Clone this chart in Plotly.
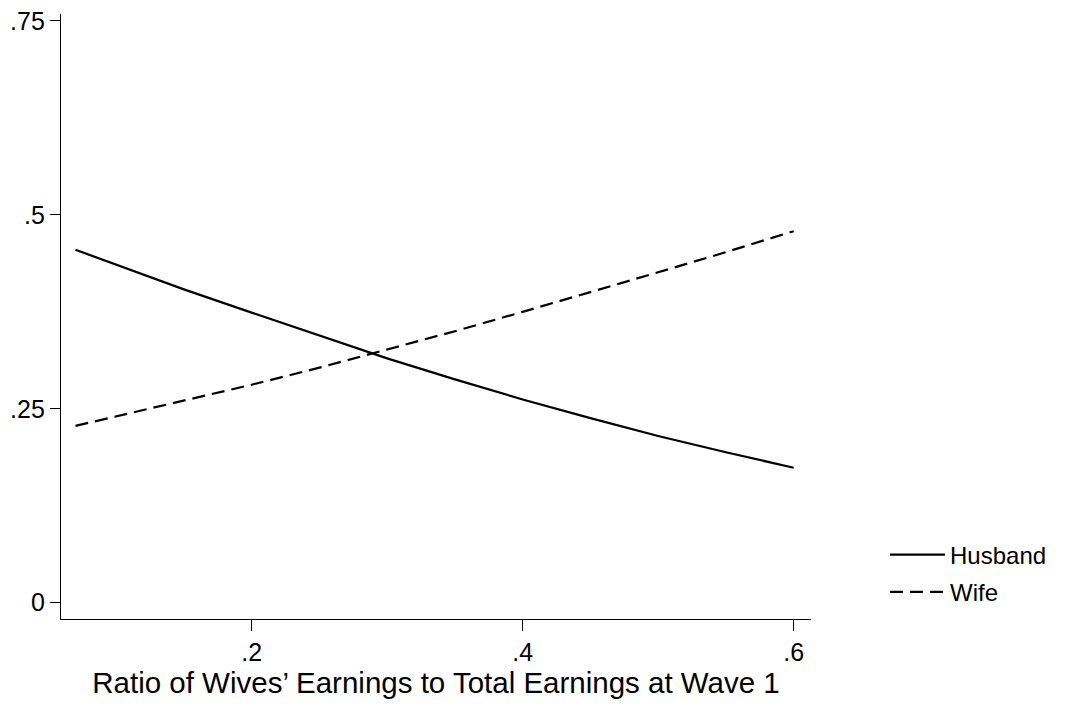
import plotly.graph_objects as go

# Predicted values
ratio = [0.07, 0.10, 0.15, 0.20, 0.25, 0.30, 0.35, 0.40, 0.45, 0.50, 0.55, 0.60]
husband = [0.455, 0.436, 0.404, 0.374, 0.344, 0.315, 0.288, 0.262, 0.238, 0.215, 0.194, 0.174]
wife = [0.228, 0.240, 0.260, 0.281, 0.303, 0.326, 0.350, 0.375, 0.400, 0.426, 0.452, 0.479]

x_ticks = [0.2, 0.4, 0.6]
x_tick_labels = [".2", ".4", ".6"]
y_ticks = [0, 0.25, 0.5, 0.75]
y_tick_labels = ["0", ".25", ".5", ".75"]

FONT = "Liberation Sans, Arial, sans-serif"

fig = go.Figure()
fig.add_trace(go.Scatter(x=ratio, y=husband, mode="lines", name="Husband",
                         legendgroup="h",
                         line=dict(color="black", width=2.2, dash="solid")))
fig.add_trace(go.Scatter(x=ratio, y=wife, mode="lines", name="Wife",
                         legendgroup="w",
                         line=dict(color="black", width=2.2, dash="13px,7px")))

fig.update_layout(
    width=1060, height=700,
    paper_bgcolor="white", plot_bgcolor="white",
    margin=dict(l=53, r=257, t=6, b=89, autoexpand=False),
    font=dict(family=FONT, size=25, color="black"),
    showlegend=True,
    legend=dict(x=1.0987, y=0.143, xanchor="left", yanchor="top",
                font=dict(size=24), tracegroupgap=3, itemwidth=55,
                bgcolor="rgba(0,0,0,0)"),
    xaxis=dict(range=[0.0593, 0.6128], tickvals=x_ticks, ticktext=x_tick_labels,
               showline=True, linecolor="black", linewidth=1.3,
               ticks="outside", ticklen=11, tickwidth=1.3, tickcolor="black",
               tickfont=dict(size=25), ticklabeloverflow="allow",
               showgrid=False, zeroline=False, mirror=False,
               title=dict(text="Ratio of Wives’ Earnings to Total Earnings at Wave 1",
                          font=dict(size=29.5), standoff=5)),
    yaxis=dict(range=[-0.021, 0.759], tickvals=y_ticks, ticktext=y_tick_labels,
               showline=True, linecolor="black", linewidth=1.3,
               ticks="outside", ticklen=10, tickwidth=1.3, tickcolor="black",
               tickfont=dict(size=25), ticklabeloverflow="allow",
               showgrid=False, zeroline=False),
)

fig.write_html("out.html")
